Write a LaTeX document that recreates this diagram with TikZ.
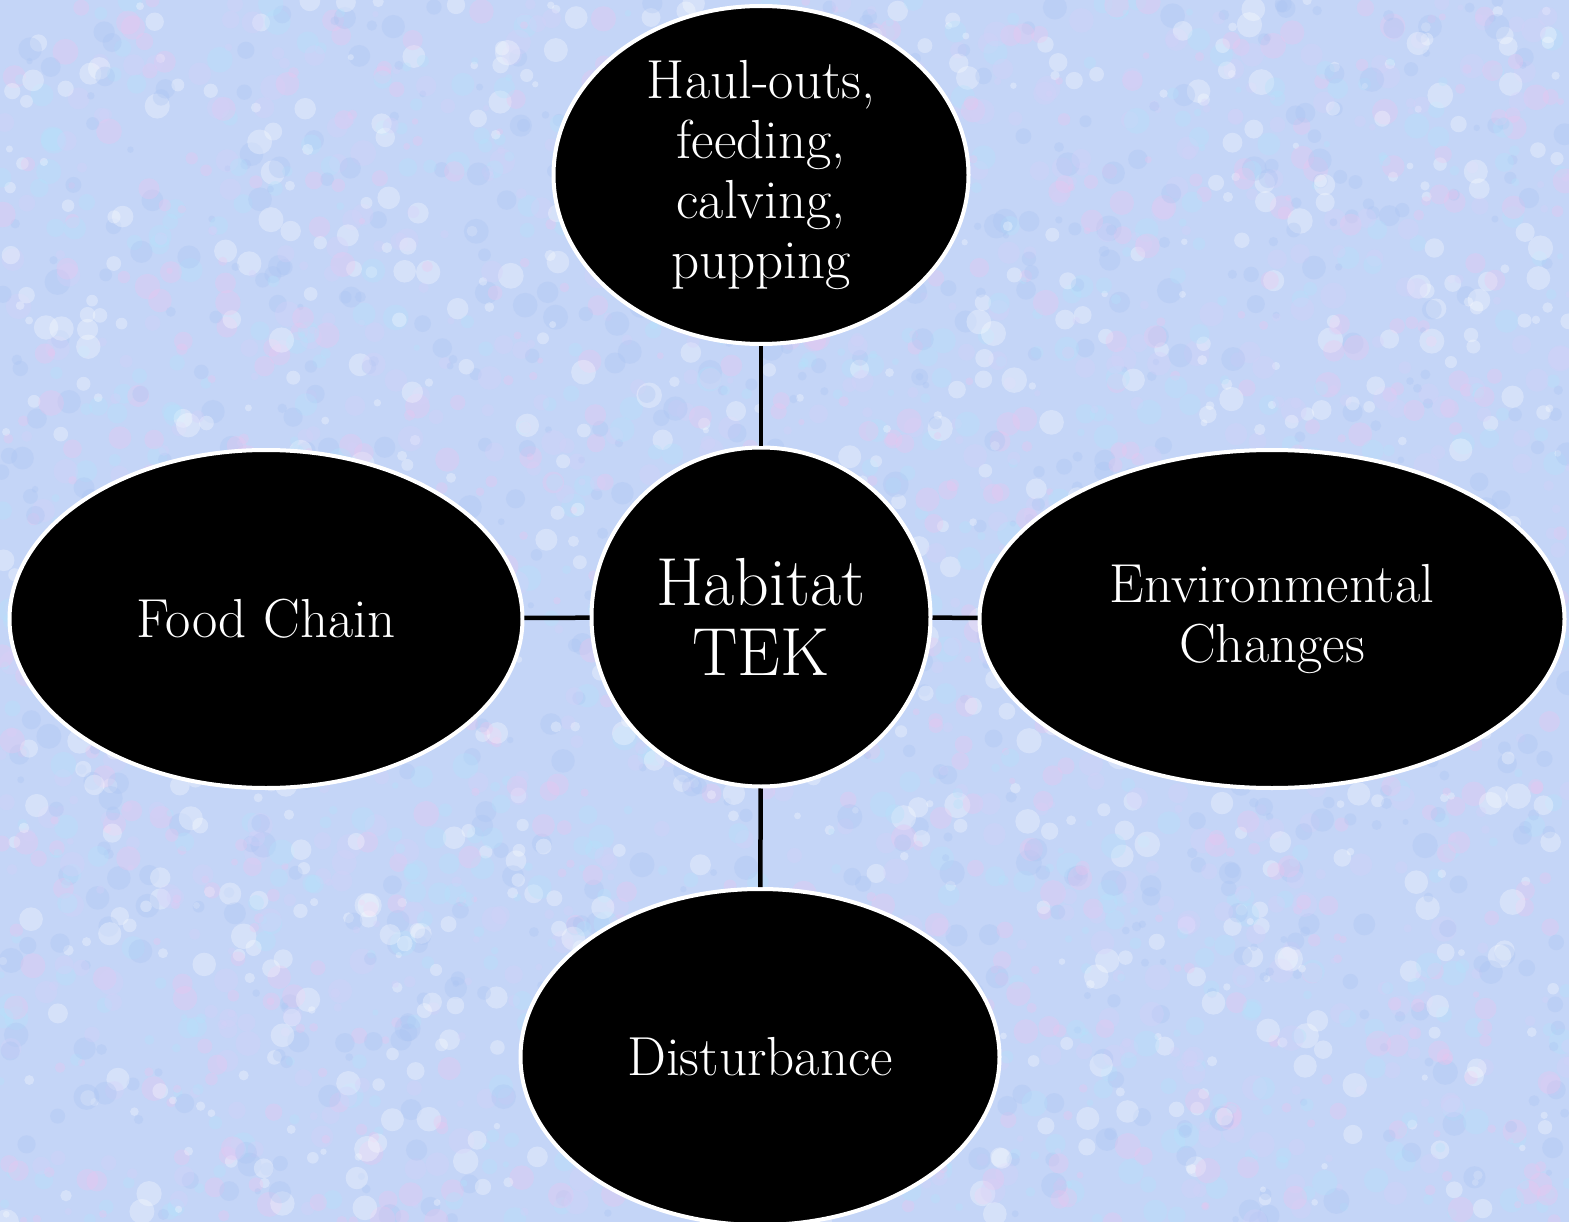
\documentclass[tikz,border=0pt]{standalone}
\usetikzlibrary{shapes.geometric}
\definecolor{bgbase}{RGB}{196,213,247}
\definecolor{tpink}{RGB}{238,196,238}
\definecolor{tcyan}{RGB}{178,228,252}
\definecolor{tblue}{RGB}{168,194,242}
\definecolor{tlav}{RGB}{214,208,250}
\begin{document}
\begin{tikzpicture}[x=1pt,y=-1pt,
  bubble/.style={ellipse, fill=black, draw=white, line width=4pt, text=white,
    inner sep=0pt, align=center, font=\fontsize{55}{60}\selectfont},
  link/.style={line width=4.5pt, draw=black}]
\useasboundingbox (0,0) rectangle (1569,1222);
\begin{scope}
\clip (0,0) rectangle (1569,1222);
\fill[bgbase] (0,0) rectangle (1569,1222);
\pgfmathsetseed{42}
\foreach \i in {1,...,4000}{
  \pgfmathsetmacro{\px}{rnd*1569}
  \pgfmathsetmacro{\py}{rnd*1222}
  \pgfmathsetmacro{\pr}{3+rnd*10}
  \pgfmathtruncatemacro{\pc}{int(rnd*5)}
  \ifcase\pc \def\cc{tpink}\or\def\cc{tcyan}\or\def\cc{tblue}\or\def\cc{tlav}\else\def\cc{white}\fi
  \fill[\cc, opacity=0.3] (\px,\py) circle (\pr pt);
}
\end{scope}
\node[bubble, minimum width=415pt, minimum height=338pt] (haul) at (761,175) {Haul-outs,\\feeding,\\calving,\\pupping};
\node[bubble, minimum width=339pt, minimum height=339pt, font=\fontsize{68}{70}\selectfont] (tek) at (761,617) {Habitat\\TEK};
\node[bubble, minimum width=513pt, minimum height=338pt] (food) at (266,619) {Food Chain};
\node[bubble, minimum width=585pt, minimum height=338pt] (env) at (1272,619) {Environmental\\Changes};
\node[bubble, minimum width=479pt, minimum height=336pt] (dist) at (760,1057) {Disturbance};
\draw[link] (haul) -- (tek);
\draw[link] (tek) -- (dist);
\draw[link] (food) -- (tek);
\draw[link] (tek) -- (env);
\end{tikzpicture}
\end{document}
